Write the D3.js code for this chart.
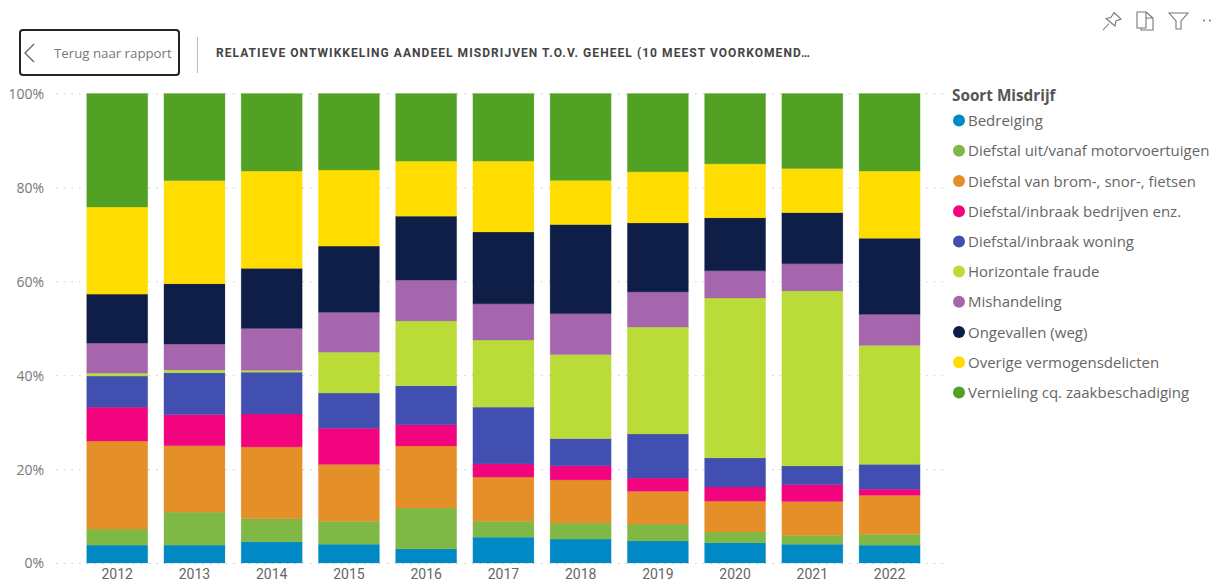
<!DOCTYPE html>
<html><head><meta charset="utf-8">
<script src="https://cdnjs.cloudflare.com/ajax/libs/d3/7.8.5/d3.min.js"></script>
<style>html,body{margin:0;padding:0;background:#fff}svg{display:block}</style></head>
<body><svg id="c" width="1213" height="583"></svg>
<script>
const years=[2012,2013,2014,2015,2016,2017,2018,2019,2020,2021,2022];
const seriesNames=["Bedreiging","Diefstal uit/vanaf motorvoertuigen","Diefstal van brom-, snor-, fietsen","Diefstal/inbraak bedrijven enz.","Diefstal/inbraak woning","Horizontale fraude","Mishandeling","Ongevallen (weg)","Overige vermogensdelicten","Vernieling cq. zaakbeschadiging"];
const colors=["#0089c4","#7fb844","#e58f28","#f2047f","#414fb0","#bbdb38","#a566ae","#0f1e47","#ffdd00","#52a125"];
const bedreiging=[3.8,3.8,4.5,4.0,3.0,5.5,5.1,4.7,4.3,4.0,3.8];
const motorvoertuigen=[3.4,7.0,4.9,4.9,8.7,3.4,3.4,3.6,2.3,1.9,2.3];
const bromSnorFietsen=[18.7,14.1,15.3,12.1,13.2,9.4,9.2,7.0,6.6,7.2,8.3];
const inbraakBedrijven=[7.2,6.6,7.0,7.7,4.5,2.8,3.0,2.8,3.0,3.6,1.3];
const inbraakWoning=[6.6,8.9,8.9,7.5,8.3,12.1,5.8,9.4,6.2,4.0,5.3];
const horizontaleFraude=[0.6,0.6,0.4,8.7,13.8,14.3,17.9,22.8,34.1,37.3,25.3];
const mishandeling=[6.4,5.5,8.9,8.5,8.7,7.7,8.7,7.5,5.8,5.8,6.6];
const ongevallen=[10.4,12.8,12.8,14.1,13.6,15.3,19.0,14.7,11.3,10.9,16.2];
const overigeVermogen=[18.5,21.9,20.7,16.2,11.7,15.1,9.4,10.9,11.5,9.4,14.3];
const vernieling=[24.1,18.5,16.5,16.3,14.4,14.4,18.5,16.7,15.0,16.0,16.5];
const yTicks=[0,.2,.4,.6,.8,1];
const seriesValues=[bedreiging,motorvoertuigen,bromSnorFietsen,inbraakBedrijven,inbraakWoning,horizontaleFraude,mishandeling,ongevallen,overigeVermogen,vernieling];
const titleText="RELATIEVE ONTWIKKELING AANDEEL MISDRIJVEN T.O.V. GEHEEL (10 MEEST VOORKOMEND…";
const backLabel="Terug naar rapport";
const legendTitle="Soort Misdrijf";

const rows=years.map((y,i)=>{const r={year:y};seriesNames.forEach((n,k)=>r[n]=seriesValues[k][i]);return r;});
const stacked=d3.stack().keys(seriesNames).offset(d3.stackOffsetExpand)(rows);

const svg=d3.select("#c");
const font="'Open Sans','Noto Sans',sans-serif";
const x=d3.scaleBand().domain(years).range([78.6,928.2]).paddingInner(.21).paddingOuter(.105);
const y=d3.scaleLinear().domain([0,1]).range([563,93.5]);

// grid
svg.append("g").selectAll("line").data(yTicks).join("line")
 .attr("x1",56).attr("x2",947).attr("y1",d=>y(d)+.5).attr("y2",d=>y(d)+.5)
 .attr("stroke","#c8c8c8").attr("stroke-width",1).attr("stroke-dasharray","1.5 6.2");

// bars
svg.append("g").selectAll("g").data(stacked).join("g").attr("fill",(d,i)=>colors[i]).attr("stroke",(d,i)=>colors[i])
 .selectAll("rect").data(d=>d).join("rect")
 .attr("x",d=>x(d.data.year)).attr("width",x.bandwidth())
 .attr("y",d=>y(d[1])).attr("height",d=>y(d[0])-y(d[1]))
 .attr("stroke-opacity",.3).attr("stroke-width",.8);

// axes
const yAxis=d3.axisLeft(y).tickValues(yTicks).tickFormat(d3.format(".0%")).tickSize(0).tickPadding(0);
const gy=svg.append("g").attr("transform","translate(44,.5)").call(yAxis);
gy.select(".domain").remove();
gy.selectAll("text").attr("font-family",font).attr("font-size",14).attr("fill","#777");
const xAxis=d3.axisBottom(x).tickSize(0).tickPadding(0);
const gx=svg.append("g").attr("transform","translate(0,569.4)").call(xAxis);
gx.select(".domain").remove();
gx.selectAll("text").attr("font-family","Roboto,sans-serif").attr("font-size",14).attr("fill","#666");

// legend
svg.append("text").attr("x",952).attr("y",100.5).text(legendTitle)
 .attr("font-family",font).attr("font-size",15.3).attr("font-weight",700).attr("fill","#555");
const leg=d3.scaleBand().domain(seriesNames).range([105.5,407.5]);
const lg=svg.append("g").selectAll("g").data(seriesNames).join("g")
 .attr("transform",d=>`translate(0,${leg(d)+leg.bandwidth()/2})`);
lg.append("circle").attr("cx",959).attr("r",6).attr("fill",(d,i)=>colors[i]);
lg.append("text").attr("x",968).attr("y",5.5).text(d=>d)
 .attr("font-family",font).attr("font-size",15).attr("fill","#666");

// header
svg.append("rect").attr("x",20).attr("y",30).attr("width",159).attr("height",45).attr("rx",3)
 .attr("fill","#fff").attr("stroke","#252423").attr("stroke-width",2);
svg.append("path").attr("d","M34 44 L25 53 L34 62").attr("fill","none").attr("stroke","#666").attr("stroke-width",1.4);
svg.append("text").attr("x",54).attr("y",58).text(backLabel)
 .attr("font-family",font).attr("font-size",13.25).attr("fill","#777");
svg.append("line").attr("x1",197.5).attr("x2",197.5).attr("y1",37).attr("y2",73).attr("stroke","#bbb");
svg.append("text").attr("x",216).attr("y",57).text(titleText)
 .attr("font-family","Roboto,sans-serif").attr("font-size",12).attr("font-weight",700).attr("letter-spacing",1.06).attr("fill","#444");

// toolbar icons
const ic=svg.append("g").attr("fill","none").attr("stroke","#777").attr("stroke-width",1.1);
ic.append("path").attr("d","M1114 12.5 L1121 19 L1116 21 L1115 26 L1106 18.5 L1111 17.5 Z M1103 30 L1109 23.5");
ic.append("path").attr("d","M1137 12 H1146 V28 H1137 Z M1146 12 L1153 18 V30 H1141 V28 M1146 18 H1153");
ic.append("path").attr("d","M1169 13 H1188 L1181 21 V29 L1176 29 V21 Z");
svg.append("g").attr("fill","#777").selectAll("circle").data([1204,1210]).join("circle").attr("cx",d=>d).attr("cy",20.5).attr("r",1);
</script></body></html>
